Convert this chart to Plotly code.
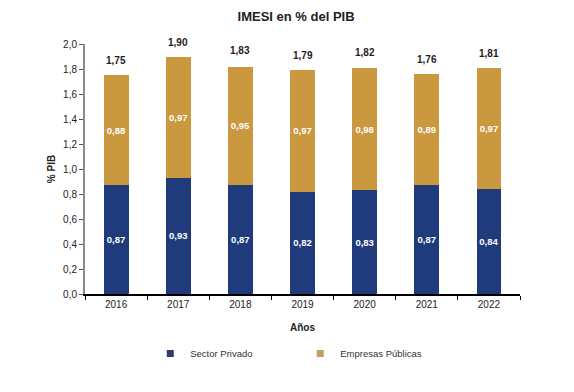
import plotly.graph_objects as go

years = ["2016", "2017", "2018", "2019", "2020", "2021", "2022"]
sector_privado = [0.87, 0.93, 0.87, 0.82, 0.83, 0.87, 0.84]
empresas_publicas = [0.88, 0.97, 0.95, 0.97, 0.98, 0.89, 0.97]
totales = [1.75, 1.90, 1.83, 1.79, 1.82, 1.76, 1.81]

NAVY = "#203B7B"
GOLD = "#C9983F"
NAVY_LEG = "#2E3A70"
GOLD_LEG = "#BFA062"
FONT = "Liberation Sans, Arial, sans-serif"

def fmt(v):
    return f"{v:.2f}".replace(".", ",")

fig = go.Figure()
fig.add_trace(go.Bar(
    x=years, y=sector_privado, name="Sector Privado", showlegend=False,
    marker=dict(color=NAVY, line=dict(width=0)),
    text=[fmt(v) for v in sector_privado], textposition="inside",
    insidetextanchor="middle", textangle=0, constraintext="none",
    textfont=dict(color="white", size=9.5, family=FONT, weight="bold"),
))
fig.add_trace(go.Bar(
    x=years, y=empresas_publicas, name="Empresas Públicas", showlegend=False,
    marker=dict(color=GOLD, line=dict(width=0)),
    text=[fmt(v) for v in empresas_publicas], textposition="inside",
    insidetextanchor="middle", textangle=0, constraintext="none",
    textfont=dict(color="white", size=9.5, family=FONT, weight="bold"),
))
# legend entries with small square symbols
fig.add_trace(go.Scatter(x=[None], y=[None], mode="markers", name="Sector Privado",
                         marker=dict(symbol="square", size=7, color=NAVY_LEG)))
fig.add_trace(go.Scatter(x=[None], y=[None], mode="markers", name="Empresas Públicas",
                         marker=dict(symbol="square", size=7, color=GOLD_LEG)))

# totals above each stack (category index positions on the category axis)
for i, t in enumerate(totales):
    fig.add_annotation(x=i, y=t, xref="x", yref="y", text=fmt(t), showarrow=False,
                       yanchor="bottom", yshift=7,
                       font=dict(size=10, color="#222", family=FONT, weight="bold"))

fig.update_layout(
    width=566, height=384,
    barmode="stack", bargap=0.6,
    separators=",.",
    plot_bgcolor="white", paper_bgcolor="white",
    font=dict(family=FONT, size=10, color="#222"),
    margin=dict(l=77, r=54, t=36, b=98, autoexpand=False),
    title=dict(text="<b>IMESI en % del PIB</b>", x=0.509, xanchor="center",
               y=0.977, yanchor="middle", font=dict(size=13, color="#222", family=FONT)),
    showlegend=True,
    legend=dict(orientation="h", x=0.15, xanchor="left", y=-0.18, yanchor="top",
                entrywidth=105, font=dict(size=9.5, color="#333", family=FONT),
                itemwidth=30, tracegroupgap=0, traceorder="normal"),
    xaxis=dict(
        type="category", automargin=False,
        title=dict(text="<b>Años</b>", standoff=15, font=dict(size=10, family=FONT)),
        showline=True, linecolor="black", linewidth=1.5,
        ticks="outside", tickson="boundaries", ticklen=4, tickcolor="black",
        showgrid=False, tickfont=dict(size=10), tickangle=0,
    ),
    yaxis=dict(
        automargin=False,
        title=dict(text="<b>% PIB</b>", standoff=6, font=dict(size=10, family=FONT)),
        range=[0, 2.0], dtick=0.2, tickformat=".1f",
        showline=True, linecolor="#888", linewidth=2,
        ticks="outside", ticklen=4, tickcolor="#555",
        showgrid=False, zeroline=False, tickfont=dict(size=10),
    ),
)

fig.write_html("out.html")
